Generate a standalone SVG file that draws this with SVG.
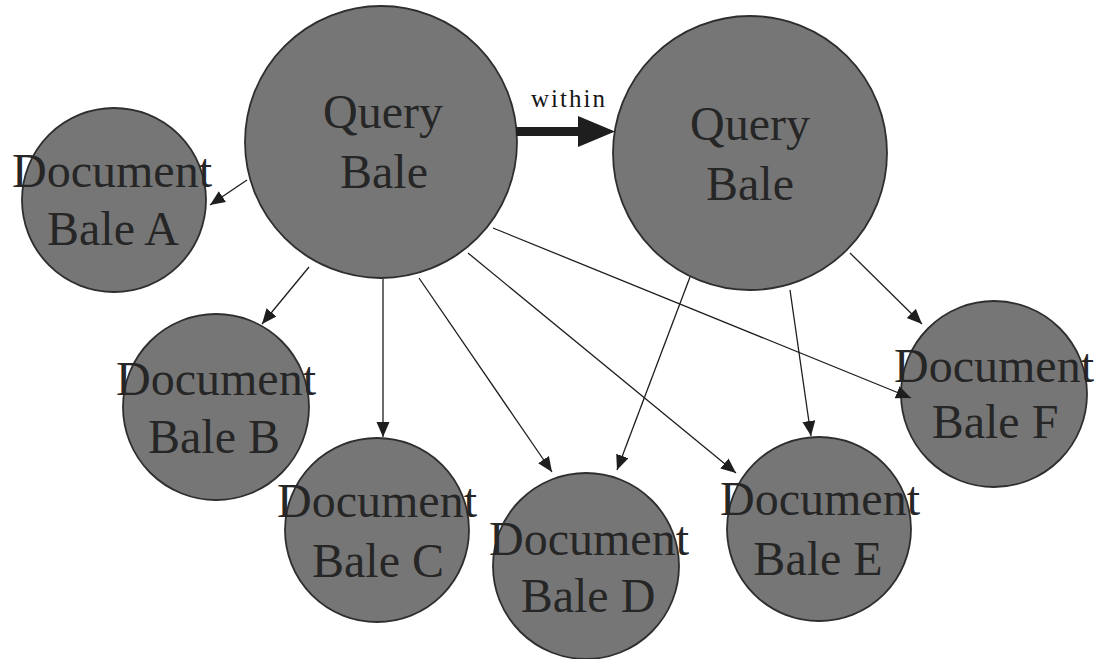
<svg xmlns="http://www.w3.org/2000/svg" width="1101" height="659" viewBox="0 0 1101 659">
<style>
.bale{fill:#767676;stroke:#2e2e2e;stroke-width:1.8}
.lbl{font-family:"Liberation Serif","Times New Roman",serif;font-size:48px;fill:#262626;text-anchor:middle}
.edge{stroke:#1e1e1e;stroke-width:1.3;fill:none;marker-end:url(#ah)}
.within{font-family:"Liberation Serif","Times New Roman",serif;font-size:25px;fill:#151515;letter-spacing:2px}
</style>
<defs>
<marker id="ah" markerUnits="userSpaceOnUse" markerWidth="16" markerHeight="14" refX="15" refY="6.5" orient="auto">
<path d="M0,0 L15,6.5 L0,13 Z" fill="#1e1e1e"/>
</marker>
</defs>
<rect width="1101" height="659" fill="#fff"/>
<g id="query-bale-1"><circle class="bale" cx="381" cy="142" r="136"/><text class="lbl" x="383" y="128">Query</text><text class="lbl" x="384" y="188">Bale</text></g>
<g id="query-bale-2"><circle class="bale" cx="750" cy="153" r="137"/><text class="lbl" x="750" y="140">Query</text><text class="lbl" x="750" y="200">Bale</text></g>
<g id="doc-a"><circle class="bale" cx="114" cy="200" r="92"/><text class="lbl" x="112" y="187">Document</text><text class="lbl" x="113" y="245">Bale A</text></g>
<g id="doc-b"><circle class="bale" cx="216" cy="407" r="93"/><text class="lbl" x="216" y="395">Document</text><text class="lbl" x="214" y="453">Bale B</text></g>
<g id="doc-c"><circle class="bale" cx="377" cy="530" r="92"/><text class="lbl" x="377" y="517">Document</text><text class="lbl" x="378" y="577">Bale C</text></g>
<g id="doc-d"><circle class="bale" cx="586" cy="566" r="93"/><text class="lbl" x="589" y="555">Document</text><text class="lbl" x="588" y="612">Bale D</text></g>
<g id="doc-e"><circle class="bale" cx="819" cy="529" r="92"/><text class="lbl" x="820" y="515">Document</text><text class="lbl" x="818" y="575">Bale E</text></g>
<g id="doc-f"><circle class="bale" cx="994" cy="394" r="93"/><text class="lbl" x="994" y="382">Document</text><text class="lbl" x="995" y="438">Bale F</text></g>
<g id="connectors">
<line class="edge" x1="247" y1="180" x2="210" y2="205"/>
<line class="edge" x1="309" y1="267" x2="262" y2="324"/>
<line class="edge" x1="383" y1="279" x2="383" y2="437"/>
<line class="edge" x1="419" y1="278" x2="552" y2="472"/>
<line class="edge" x1="468" y1="253" x2="736" y2="473"/>
<line class="edge" x1="493" y1="228" x2="911" y2="398"/>
<line class="edge" x1="690" y1="277" x2="617" y2="470"/>
<line class="edge" x1="790" y1="290" x2="811" y2="436"/>
<line class="edge" x1="850" y1="253" x2="922" y2="324"/>
<g id="within-arrow">
<rect x="516" y="127" width="64" height="9" fill="#1e1e1e"/>
<path d="M578,116 L615,131.5 L578,147 Z" fill="#1e1e1e"/>
<text class="within" x="531" y="107">within</text>
</g>
</g>
</svg>
